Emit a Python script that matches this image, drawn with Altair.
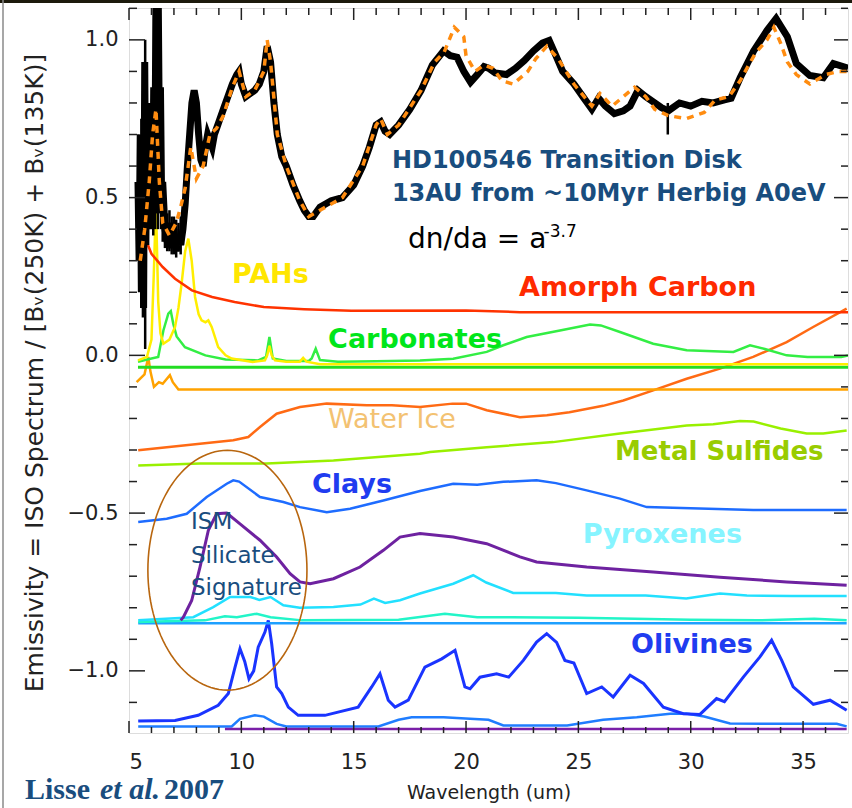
import altair as alt
import numpy as np
import pandas as pd

# ---------------- ISO spectrum of HD100546 (observed) ----------------
obs_wl = [5.40, 5.45, 5.50, 5.55, 5.60, 5.65, 5.70, 5.75, 5.80, 5.85, 5.90, 5.95, 6.00, 6.05,
          6.10, 6.15, 6.20, 6.25, 6.30, 6.35, 6.40, 6.45, 6.50, 6.60, 6.70, 6.80, 6.90, 7.00,
          7.10, 7.20, 7.30, 7.40, 7.50, 7.60, 7.70, 7.80, 7.90, 8.00, 8.10, 8.20, 8.30, 8.40,
          8.50, 8.60, 8.70, 8.80, 8.90, 9.00, 9.20, 9.40, 9.60, 9.80, 9.90, 10.00, 10.20, 10.40,
          10.60, 10.80, 11.00, 11.15, 11.30, 11.45, 11.60, 11.80, 12.00, 12.30, 12.60, 12.80,
          13.00, 13.20, 13.50, 14.00, 14.50, 15.00, 15.40, 15.70, 16.00, 16.20, 16.40, 16.60,
          17.00, 17.50, 18.00, 18.50, 19.00, 19.30, 19.60, 19.90, 20.20, 20.50, 20.80, 21.00,
          21.30, 21.80, 22.20, 22.60, 23.00, 23.40, 23.70, 24.00, 24.30, 24.80, 25.20, 25.60,
          25.90, 26.20, 26.60, 27.00, 27.30, 27.65, 28.00, 28.30, 28.70, 29.00, 29.50, 30.00,
          30.50, 31.00, 31.50, 31.80, 32.20, 32.80, 33.40, 33.80, 34.30, 34.70, 35.30, 35.90,
          36.35, 37.00]
obs_em = [0.55, 0.30, 0.70, 0.20, 0.62, 0.15, 0.93, 0.35, 0.80, 0.45, 0.70, 0.40, 0.62, 0.45,
          0.85, 0.55, 1.15, 0.60, 1.15, 0.70, 0.85, 0.50, 0.55, 0.40, 0.36, 0.42, 0.34, 0.40,
          0.33, 0.38, 0.35, 0.40, 0.48, 0.60, 0.70, 0.80, 0.84, 0.80, 0.70, 0.62, 0.60, 0.66,
          0.70, 0.68, 0.66, 0.70, 0.72, 0.74, 0.78, 0.82, 0.86, 0.89, 0.90, 0.86, 0.82, 0.83,
          0.84, 0.86, 0.90, 0.98, 0.93, 0.80, 0.70, 0.63, 0.60, 0.54, 0.49, 0.46,
          0.44, 0.44, 0.47, 0.49, 0.50, 0.54, 0.60, 0.66, 0.73, 0.74, 0.71, 0.70,
          0.73, 0.78, 0.84, 0.92, 0.965, 0.95, 0.945, 0.90, 0.866, 0.89, 0.915, 0.91,
          0.895, 0.89, 0.91, 0.935, 0.965, 0.99, 0.998, 0.95, 0.90, 0.86, 0.82, 0.78,
          0.815, 0.79, 0.766, 0.775, 0.79, 0.84, 0.82, 0.805, 0.785, 0.775, 0.80, 0.79,
          0.805, 0.80, 0.81, 0.815, 0.88, 0.965, 1.03, 1.067, 1.01, 0.925, 0.887, 0.88,
          0.925, 0.91]

# error bars of the noisy short-wavelength points
err_wl = [5.42, 5.48, 5.55, 5.62, 5.68, 5.72, 5.78, 5.85, 5.92, 6.00, 6.08, 6.15, 6.22, 6.28,
          6.35, 6.42, 6.50, 6.60, 6.70, 6.80, 6.90, 7.00, 7.10, 7.20, 7.30, 7.40, 7.50, 28.98]
err_lo = [0.33, 0.25, 0.15, 0.12, 0.20, 0.02, 0.35, 0.40, 0.42, 0.45, 0.38, 0.40, 0.45, 0.40,
          0.45, 0.40, 0.36, 0.34, 0.33, 0.33, 0.32, 0.32, 0.31, 0.33, 0.32, 0.35, 0.42, 0.70]
err_hi = [0.70, 0.62, 0.75, 0.80, 0.93, 1.00, 0.85, 0.75, 0.70, 0.72, 0.85, 1.00, 1.15, 1.15,
          1.00, 0.75, 0.55, 0.47, 0.45, 0.46, 0.44, 0.44, 0.43, 0.42, 0.44, 0.46, 0.55, 0.80]

# ---------------- best-fit model (sum of components) ----------------
fit_wl = [5.5, 5.7, 5.9, 6.05, 6.2, 6.35, 6.5, 6.8, 7.1, 7.3, 7.5, 7.75, 8.0, 8.3, 8.6, 8.9,
          9.2, 9.6, 9.9, 10.2, 10.6, 11.0, 11.15, 11.3, 11.6, 12.0, 12.6, 13.0, 13.5, 14.5,
          15.4, 16.0, 16.2, 16.5, 17.0, 18.0, 18.6, 19.02, 19.48, 19.9, 20.0, 20.4, 20.8, 21.2,
          21.6, 22.1, 22.75, 23.1, 23.6, 24.1, 24.8, 25.6, 25.96, 26.5, 27.0, 27.5, 28.0, 28.4,
          29.0, 29.8, 30.6, 31.1, 31.7, 32.2, 32.5, 32.9, 33.4, 33.7, 34.0, 34.3, 34.7, 35.3,
          36.0, 36.6, 37.0]
fit_em = [0.30, 0.40, 0.55, 0.70, 0.78, 0.55, 0.42, 0.38, 0.42, 0.47, 0.53, 0.66, 0.56, 0.60,
          0.70, 0.72, 0.76, 0.85, 0.90, 0.82, 0.84, 0.90, 1.00, 0.93, 0.70, 0.60, 0.49, 0.44,
          0.46, 0.50, 0.60, 0.73, 0.75, 0.70, 0.73, 0.84, 0.93, 0.96, 1.04, 1.01, 0.95, 0.90,
          0.92, 0.91, 0.87, 0.86, 0.90, 0.94, 0.98, 0.94, 0.86, 0.79, 0.83, 0.79, 0.82, 0.85,
          0.82, 0.78, 0.76, 0.75, 0.77, 0.81, 0.82, 0.87, 0.91, 0.96, 1.00, 1.04, 0.99, 0.93,
          0.89, 0.86, 0.89, 0.90, 0.90]

# ---------------- model components (offset for clarity) ----------------
amc_wl = [5.4, 5.7, 6.0, 6.5, 7.05, 7.8, 8.7, 9.7, 11.0, 12.8, 14.9, 20.0, 22.4, 37.0]
amc_em = [0.449, 0.375, 0.322, 0.28, 0.243, 0.206, 0.185, 0.169, 0.153, 0.146, 0.141, 0.142,
          0.137, 0.137]

pah_wl = [5.4, 5.8, 6.0, 6.1, 6.2, 6.3, 6.4, 6.53, 6.8, 7.05, 7.2, 7.34, 7.5, 7.64, 7.79, 7.94,
          8.1, 8.23, 8.4, 8.53, 8.68, 8.97, 9.3, 9.57, 10.5, 11.05, 11.15, 11.25, 11.35, 11.5,
          12.0, 12.6, 12.75, 12.9, 13.5, 37.0]
pah_em = [-0.016, -0.005, 0.05, 0.25, 0.48, 0.17, 0.07, 0.037, 0.05, 0.09, 0.15, 0.227, 0.33,
          0.37, 0.30, 0.185, 0.13, 0.111, 0.105, 0.111, 0.09, 0.026, 0.0, -0.01, -0.021, -0.016,
          0.0, 0.03, 0.0, -0.016, -0.02, -0.02, -0.008, -0.02, -0.028, -0.028]

carb_wl = [5.4, 6.0, 6.3, 6.53, 6.75, 6.86, 6.97, 7.12, 7.49, 8.4, 9.3, 10.75, 11.1, 11.25,
           11.4, 12.0, 13.0, 13.13, 13.31, 13.5, 14.3, 16.0, 17.95, 19.43, 20.92, 21.66, 22.7,
           24.18, 25.52, 26.0, 26.85, 28.33, 29.82, 31.9, 32.64, 33.3, 34.27, 35.2, 36.7, 37.0]
carb_em = [-0.02, -0.01, -0.005, 0.079, 0.132, 0.14, 0.10, 0.06, 0.026, 0.0, -0.013, -0.016,
           -0.005, 0.058, -0.01, -0.018, -0.018, -0.01, 0.021, -0.015, -0.02, -0.019, -0.016,
           -0.011, 0.011, 0.032, 0.058, 0.079, 0.098, 0.095, 0.074, 0.037, 0.016, 0.011, 0.032,
           0.02, 0.0, -0.005, -0.005, 0.0]

base_wl = [5.4, 37.0]
base_em = [-0.038, -0.038]

ora_wl = [5.34, 5.69, 5.86, 5.95, 6.11, 6.33, 6.5, 6.82, 6.95, 7.2, 37.0]
ora_em = [-0.085, -0.06, -0.005, -0.05, -0.10, -0.085, -0.09, -0.063, -0.085, -0.108, -0.108]

ice_wl = [5.41, 6.68, 8.16, 9.64, 10.31, 10.83, 11.57, 12.61, 13.8, 15.58, 16.7, 17.95, 19.4,
          20.0, 20.92, 22.4, 23.6, 24.6, 26.1, 27.0, 28.33, 29.82, 31.3, 32.78, 34.27, 35.45,
          36.94]
ice_em = [-0.301, -0.291, -0.28, -0.269, -0.259, -0.227, -0.185, -0.164, -0.153, -0.158,
          -0.158, -0.164, -0.153, -0.153, -0.174, -0.196, -0.19, -0.18, -0.16, -0.143, -0.111,
          -0.074, -0.042, -0.005, 0.042, 0.09, 0.148]

ms_wl = [5.41, 8.16, 11.13, 14.1, 17.95, 18.4, 20.92, 23.88, 26.85, 29.82, 31.0, 32.19, 32.8,
         34.0, 35.16, 35.9, 36.94]
ms_em = [-0.349, -0.343, -0.343, -0.333, -0.312, -0.306, -0.291, -0.275, -0.248, -0.222,
         -0.218, -0.208, -0.21, -0.232, -0.248, -0.248, -0.238]

clay_wl = [5.41, 6.68, 7.57, 8.46, 9.35, 9.64, 9.9, 10.83, 11.87, 12.61, 13.8, 14.84, 16.32,
           17.95, 19.43, 20.5, 21.66, 23.14, 24.0, 25.37, 26.85, 28.04, 29.2, 32.78, 36.94]
clay_em = [-0.528, -0.518, -0.502, -0.449, -0.407, -0.396, -0.40, -0.449, -0.465, -0.481,
           -0.497, -0.486, -0.46, -0.43, -0.407, -0.41, -0.401, -0.396, -0.405, -0.428, -0.454,
           -0.481, -0.483, -0.49, -0.49]

amsil_wl = [7.3, 7.42, 7.79, 8.16, 8.53, 8.9, 9.35, 9.94, 10.83, 11.57, 12.17, 12.61, 13.06,
            14.1, 15.28, 16.32, 17.06, 17.95, 19.43, 20.92, 22.4, 23.14, 25.37, 28.33, 31.3,
            34.27, 36.94]
amsil_em = [-0.84, -0.83, -0.777, -0.671, -0.555, -0.502, -0.5, -0.534, -0.586, -0.639, -0.692,
            -0.718, -0.724, -0.708, -0.671, -0.618, -0.576, -0.565, -0.576, -0.597, -0.639,
            -0.655, -0.671, -0.687, -0.703, -0.718, -0.729]

pyr_wl = [5.41, 7.86, 8.75, 9.5, 10.4, 10.8, 11.3, 11.87, 12.6, 14.1, 15.3, 15.9, 16.4, 17.06,
          17.95, 19.43, 20.32, 20.9, 22.1, 24.0, 25.37, 28.0, 29.8, 31.3, 32.5, 34.5, 36.94]
pyr_em = [-0.84, -0.83, -0.798, -0.766, -0.766, -0.775, -0.766, -0.792, -0.80, -0.798, -0.79,
          -0.771, -0.785, -0.776, -0.755, -0.724, -0.697, -0.72, -0.753, -0.753, -0.761, -0.761,
          -0.771, -0.755, -0.761, -0.763, -0.763]

opx_wl = [5.41, 8.38, 9.27, 9.8, 10.68, 11.3, 12.7, 17.0, 19.06, 20.5, 22.0, 25.0, 30.0, 33.0,
          35.5, 36.94]
opx_em = [-0.845, -0.84, -0.827, -0.83, -0.819, -0.83, -0.84, -0.838, -0.819, -0.83, -0.83,
          -0.832, -0.838, -0.84, -0.835, -0.84]

flat_wl = [5.41, 36.94]
flat_em = [-0.849, -0.849]

oli_wl = [5.41, 7.05, 8.08, 8.97, 9.42, 9.72, 9.94, 10.15, 10.34, 10.55, 10.75, 11.05, 11.2,
          11.35, 11.57, 11.8, 12.09, 12.53, 13.72, 15.2, 15.8, 16.17, 16.54, 16.84, 17.43,
          18.17, 18.92, 19.51, 19.95, 20.18, 20.62, 21.36, 21.9, 22.55, 23.14, 23.59, 24.03,
          24.4, 24.8, 25.37, 26.04, 26.55, 27.3, 27.9, 28.78, 29.67, 30.41, 31.15, 31.5, 32.34,
          33.08, 33.6, 34.05, 34.56, 35.46, 36.2, 36.94]
oli_em = [-1.159, -1.157, -1.141, -1.109, -1.072, -0.988, -0.93, -0.97, -1.025, -1.0, -0.925,
          -0.877, -0.84, -0.914, -1.051, -1.072, -1.115, -1.141, -1.141, -1.115, -1.051, -1.009,
          -1.093, -1.115, -1.093, -0.988, -0.962, -0.935, -1.051, -1.057, -1.02, -1.009, -1.02,
          -0.967, -0.909, -0.882, -0.91, -0.967, -0.975, -1.072, -1.051, -1.083, -1.014, -1.04,
          -1.115, -1.136, -1.138, -1.088, -1.098, -1.02, -0.956, -0.903, -0.967, -1.051,
          -1.106, -1.093, -1.125]

olb_wl = [5.41, 9.57, 9.94, 10.6, 11.0, 11.57, 12.0, 16.1, 17.0, 17.58, 19.0, 20.18, 21.0,
          21.66, 24.5, 26.1, 27.6, 29.08, 29.8, 30.6, 31.75, 36.5, 36.94]
olb_em = [-1.176, -1.176, -1.152, -1.141, -1.145, -1.168, -1.176, -1.176, -1.155, -1.147,
          -1.147, -1.152, -1.155, -1.173, -1.173, -1.155, -1.147, -1.136, -1.135, -1.145,
          -1.167, -1.168, -1.176]

floor_wl = [9.27, 36.94]
floor_em = [-1.184, -1.184]

# ---------------- frame geometry ----------------
W, H = 719, 725
X_DOM = [5, 37]
Y_DOM = [-1.197, 1.101]
x_major = [5, 10, 15, 20, 25, 30, 35]
x_minor = [v for v in range(6, 37) if v % 5 != 0]
y_major = [-1.0, -0.5, 0.0, 0.5, 1.0]
y_minor = [round(-1.1 + 0.1 * i, 1) for i in range(23)]
y_minor = [v for v in y_minor if round(v * 2) / 2 != v]

AXIS_FONT = "DejaVu Sans"
LABEL_FONT = "DejaVu Sans"

xs = alt.Scale(domain=X_DOM, nice=False, zero=False)
ys = alt.Scale(domain=Y_DOM, nice=False, zero=False)


def curve(wl, em, color, width=2.5, dash=None):
    df = pd.DataFrame({"wl": wl, "em": em})
    kw = dict(color=color, strokeWidth=width, clip=True)
    if dash:
        kw["strokeDash"] = dash
    return alt.Chart(df).mark_line(**kw).encode(
        x=alt.X("wl:Q", scale=xs), y=alt.Y("em:Q", scale=ys))


def label(text, x, y, color, size=27, weight="bold", align="left", font=LABEL_FONT, style="normal"):
    df = pd.DataFrame({"x": [x], "y": [y], "t": [text]})
    return alt.Chart(df).mark_text(
        align=align, baseline="middle", color=color, fontSize=size, fontWeight=weight,
        font=font, fontStyle=style
    ).encode(x=alt.X("x:Q", scale=xs), y=alt.Y("y:Q", scale=ys), text="t:N")


# axes carry only the labels; ticks are drawn inward below
base = alt.Chart(pd.DataFrame({"wl": [5.0], "em": [0.0]})).mark_point(opacity=0).encode(
    x=alt.X("wl:Q", scale=xs, title="Wavelength (um)",
            axis=alt.Axis(values=x_major, format="d", ticks=False, tickSize=0, domain=False,
                          grid=False, labelFont=AXIS_FONT, labelFontSize=21,
                          labelColor="#222222", labelPadding=29, labelBaseline="middle",
                          titleFont=AXIS_FONT, titleFontSize=19, titleFontWeight="normal",
                          titleColor="#222222", titleY=59, titleBaseline="middle")),
    y=alt.Y("em:Q", scale=ys,
            title="Emissivity  = ISO Spectrum / [B\u1d65(250K) + B\u1d65(135K)]",
            axis=alt.Axis(values=y_major, format=".1f", ticks=False, tickSize=0, domain=False,
                          grid=False, labelFont=AXIS_FONT, labelFontSize=21,
                          labelColor="#222222", labelPadding=11, titleFont=AXIS_FONT,
                          titleFontSize=25, titleFontWeight="normal", titleColor="#222222",
                          titleX=-95, titleY=H / 2 + 2, titleAngle=270,
                          titleBaseline="middle", titleAlign="center")),
)

TICK = "#222222"


def xticks(vals, length, top):
    df = pd.DataFrame({"v": vals})
    if top:
        enc = dict(y=alt.value(0), y2=alt.value(length))
    else:
        enc = dict(y=alt.value(H), y2=alt.value(H - length))
    return alt.Chart(df).mark_rule(color=TICK, strokeWidth=1.5).encode(
        x=alt.X("v:Q", scale=xs), **enc)


def yticks(vals, length, right):
    df = pd.DataFrame({"v": vals})
    if right:
        enc = dict(x=alt.value(W), x2=alt.value(W - length))
    else:
        enc = dict(x=alt.value(0), x2=alt.value(length))
    return alt.Chart(df).mark_rule(color=TICK, strokeWidth=1.5).encode(
        y=alt.Y("v:Q", scale=ys), **enc)


ticks = [
    xticks(x_major, 12, False), xticks(x_minor, 6, False),
    xticks(x_major, 12, True), xticks(x_minor, 7, True),
    yticks(y_major, 16, False), yticks(y_minor, 8, False),
    yticks(y_major, 14, True), yticks(y_minor, 7, True),
]

# observed spectrum with its error bars, then the dashed model on top
err_df = pd.DataFrame({"wl": err_wl, "lo": err_lo, "hi": err_hi})
errbars = alt.Chart(err_df).mark_rule(color="black", strokeWidth=2.5, clip=True).encode(
    x=alt.X("wl:Q", scale=xs), y=alt.Y("lo:Q", scale=ys), y2="hi:Q")
observed = curve(obs_wl, obs_em, "black", width=7)
model = curve(fit_wl, fit_em, "#ff8c10", width=3.5, dash=[7, 6])

components = [
    curve(olb_wl, olb_em, "#1f7dff", 2.5),
    curve(floor_wl, floor_em, "#7a1fa8", 2.5),
    curve(oli_wl, oli_em, "#1a34ff", 3),
    curve(flat_wl, flat_em, "#1ea0ff", 2.5),
    curve(opx_wl, opx_em, "#22f5c8", 2.5),
    curve(pyr_wl, pyr_em, "#22e0ff", 2.5),
    curve(amsil_wl, amsil_em, "#6e22a0", 3),
    curve(clay_wl, clay_em, "#1e6cff", 2.5),
    curve(ms_wl, ms_em, "#99f000", 2.5),
    curve(ice_wl, ice_em, "#ff6a14", 2.5),
    curve(ora_wl, ora_em, "#ffa200", 2.5),
    curve(base_wl, base_em, "#22dd22", 3),
    curve(carb_wl, carb_em, "#33ee44", 2.5),
    curve(pah_wl, pah_em, "#ffee00", 2.5),
    curve(amc_wl, amc_em, "#ff3300", 2.5),
]

# ellipse around the amorphous silicate feature
E_CX, E_CY, E_RX, E_RY = 9.38, -0.681, 3.54, 0.380
theta = np.linspace(0, 2 * np.pi, 121)
ell_df = pd.DataFrame({"wl": E_CX + E_RX * np.cos(theta), "em": E_CY + E_RY * np.sin(theta),
                       "k": np.arange(theta.size)})
ellipse = alt.Chart(ell_df).mark_line(color="#b8660f", strokeWidth=1.6).encode(
    x=alt.X("wl:Q", scale=xs), y=alt.Y("em:Q", scale=ys), order="k:Q")

TITLE_BLUE = "#194d7e"
texts = [
    label("HD100546 Transition Disk", 16.70, 0.615, TITLE_BLUE, size=24),
    label("13AU from ~10Myr Herbig A0eV", 16.70, 0.510, TITLE_BLUE, size=24),
    label("dn/da = a", 17.42, 0.365, "black", size=28, weight="normal"),
    label("-3.7", 23.45, 0.392, "black", size=17, weight="normal"),
    label("PAHs", 9.58, 0.254, "#ffe600", size=27),
    label("Amorph Carbon", 22.36, 0.212, "#ff2a00", size=27),
    label("Carbonates", 13.86, 0.0475, "#00e61a", size=27),
    label("Water Ice", 13.86, -0.206, "#f3c272", size=27, weight="normal"),
    label("Metal Sulfides", 26.63, -0.3075, "#99cc00", size=26),
    label("Clays", 13.14, -0.412, "#1f3cf0", size=27),
    label("Pyroxenes", 25.20, -0.5705, "#86f4ff", size=27),
    label("Olivines", 27.34, -0.919, "#1f3cf0", size=27),
    label("ISM", 7.76, -0.529, TITLE_BLUE, size=23, weight="normal"),
    label("Silicate", 7.76, -0.637, TITLE_BLUE, size=23, weight="normal"),
    label("Signature", 7.76, -0.7385, TITLE_BLUE, size=23, weight="normal"),
]

# citation below the plot, and the thin image border
cite_df = pd.DataFrame({"d": [0]})
SERIF = "Liberation Serif"


def cite(text, x, style):
    return alt.Chart(cite_df).mark_text(
        text=text, align="left", baseline="middle", font=SERIF, fontSize=30,
        fontWeight="bold", fontStyle=style, color=TITLE_BLUE
    ).encode(x=alt.value(x), y=alt.value(782))


citation = [cite("Lisse", -104, "normal"), cite("et al.", -29, "italic"),
            cite("2007", 35, "normal")]

border = [
    alt.Chart(cite_df).mark_rule(color="#1c1a0c", strokeWidth=4).encode(
        x=alt.value(-129), x2=alt.value(W + 4), y=alt.value(-7)),
    alt.Chart(cite_df).mark_rule(color="#8a8a8a", strokeWidth=1.5).encode(
        x=alt.value(-126), y=alt.value(-8), y2=alt.value(H + 75)),
]

chart = alt.layer(
    base, *components, errbars, observed, model, ellipse, *ticks, *texts, *citation, *border
).properties(
    width=W, height=H, autosize="none",
    padding={"left": 129, "top": 8, "right": 4, "bottom": 75},
).configure_view(
    stroke="#1a1a1a", strokeWidth=2
).configure(background="white")

chart.save("out.html", embed_options={"renderer": "svg", "actions": False})
